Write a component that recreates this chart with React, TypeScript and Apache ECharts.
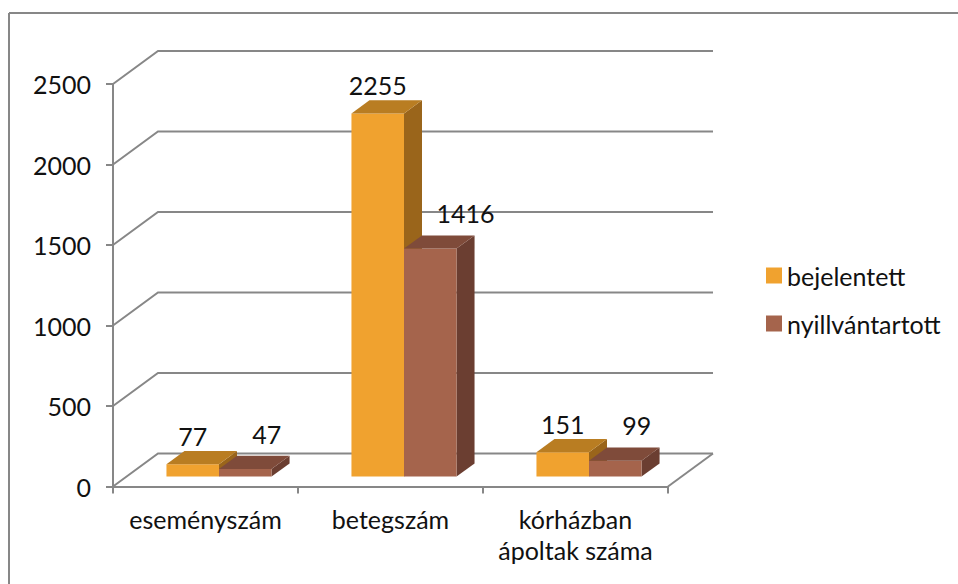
import React, { useEffect, useRef } from "react";
import * as echarts from "echarts";

const categories = ["eseményszám", "betegszám", "kórházban\nápoltak száma"];
const seriesNames = ["bejelentett", "nyillvántartott"];
const bejelentett = [77, 2255, 151];
const nyilvantartott = [47, 1416, 99];
const yTicks = [0, 500, 1000, 1500, 2000, 2500];

const FONT = "Lato, 'Open Sans', sans-serif";
const FS = 25;
const GRID_COLOR = "#878787";
const DX = 45;
const DY = -33;
const D1 = 0.3;
const D2 = 0.7;

const palettes = [
  { front: "#F0A22F", top: "#B97D22", side: "#9A651B" },
  { front: "#A5644C", top: "#7F4B3A", side: "#6B3E31" },
];
const allSeries = [bejelentett, nyilvantartott];

function barRenderer(sIdx: number, labelDx: number) {
  return (params: any, api: any) => {
    const i = api.value(0);
    const v = api.value(1);
    const base = api.coord([i, 0]);
    const top = api.coord([i, v]);
    const w = api.size([1, 0])[0];
    const bw = w * 0.284;
    const xl = sIdx === 0 ? base[0] - bw : base[0];
    const xr = xl + bw;
    const fx = D1 * DX, fy = D1 * DY, bx = D2 * DX, by = D2 * DY;
    const yb = base[1];
    const yt = top[1];
    const c = palettes[sIdx];
    const txt = String(v);
    const halfW = (txt.length * FS * 0.55) / 2;
    let lx = (xl + xr) / 2 + fx + labelDx;
    let ly = yt + by - 15;
    if (sIdx === 1) {
      const other = allSeries[0][i];
      if (other > v) {
        // keep label clear of the taller neighbouring bar's side face
        const sideRight = xl + bx;
        lx = Math.max(lx, sideRight + halfW + 16);
        ly = yt + by - 22;
      }
    }
    return {
      type: "group",
      children: [
        {
          type: "polygon",
          shape: { points: [[xr + fx, yb + fy], [xr + fx, yt + fy], [xr + bx, yt + by], [xr + bx, yb + by]] },
          style: { fill: c.side },
        },
        {
          type: "rect",
          shape: { x: xl + fx, y: yt + fy, width: bw, height: yb - yt },
          style: { fill: c.front },
        },
        {
          type: "polygon",
          shape: { points: [[xl + fx, yt + fy], [xr + fx, yt + fy], [xr + bx, yt + by], [xl + bx, yt + by]] },
          style: { fill: c.top },
        },
        {
          type: "text",
          x: lx,
          y: ly,
          style: {
            text: txt,
            fill: "#111",
            font: `${FS}px ${FONT}`,
            align: "center",
            verticalAlign: "middle",
          },
        },
      ],
    };
  };
}

export default function App() {
  const ref = useRef<HTMLDivElement>(null);
  useEffect(() => {
    document.body.style.margin = "0";
    const chart = echarts.init(ref.current!, null, { renderer: "svg" });
    const option: any = {
      animation: false,
      backgroundColor: "#fff",
      textStyle: { fontFamily: FONT },
      grid: { left: 113, top: 84, right: 290, bottom: 97.5, containLabel: false },
      legend: {
        orient: "vertical",
        left: 761,
        top: 258,
        itemWidth: 16,
        itemHeight: 16,
        itemGap: 23,
        icon: "rect",
        data: seriesNames,
        textStyle: { fontSize: FS, color: "#111", fontFamily: FONT },
      },
      graphic: [
        { type: "line", shape: { x1: 9, y1: 13, x2: 958, y2: 13 }, style: { stroke: GRID_COLOR, lineWidth: 2 } },
        { type: "line", shape: { x1: 9, y1: 13, x2: 9, y2: 584 }, style: { stroke: GRID_COLOR, lineWidth: 2 } },
      ],
      xAxis: {
        type: "category",
        data: categories,
        axisLine: { lineStyle: { color: GRID_COLOR, width: 2 } },
        axisTick: { show: true, length: 7, lineStyle: { color: GRID_COLOR, width: 2 } },
        axisLabel: {
          color: "#111",
          fontSize: FS,
          fontFamily: FONT,
          margin: 17,
          lineHeight: 31,
          interval: 0,
          hideOverlap: false,
        },
        splitLine: { show: false },
      },
      yAxis: {
        type: "value",
        min: 0,
        max: 2500,
        interval: 500,
        axisLine: { show: true, lineStyle: { color: GRID_COLOR, width: 2 } },
        axisTick: { show: true, length: 7, lineStyle: { color: GRID_COLOR, width: 2 } },
        axisLabel: {
          color: "#111",
          fontSize: FS,
          fontFamily: FONT,
          margin: 22,
          formatter: (v: number) => String(v),
        },
        splitLine: { show: false },
      },
      series: [
        {
          type: "custom",
          name: "wall",
          silent: true,
          clip: false,
          z: 1,
          data: yTicks.map((t) => [0, t]),
          renderItem: (params: any, api: any) => {
            const cs = params.coordSys;
            const y = api.coord([0, api.value(1)])[1];
            const x0 = cs.x;
            const x1 = cs.x + cs.width;
            const children: any[] = [
              {
                type: "polyline",
                shape: { points: [[x0, y], [x0 + DX, y + DY], [x1 + DX, y + DY]] },
                style: { stroke: GRID_COLOR, lineWidth: 2, fill: "none" },
              },
            ];
            if (api.value(1) === 0) {
              children.push({
                type: "line",
                shape: { x1: x1, y1: y, x2: x1 + DX, y2: y + DY },
                style: { stroke: GRID_COLOR, lineWidth: 2 },
              });
            }
            return { type: "group", children };
          },
        },
        {
          type: "custom",
          name: seriesNames[0],
          clip: false,
          z: 2,
          itemStyle: { color: palettes[0].front },
          data: bejelentett.map((v, i) => [i, v]),
          renderItem: barRenderer(0, 0),
        },
        {
          type: "custom",
          name: seriesNames[1],
          clip: false,
          z: 3,
          itemStyle: { color: palettes[1].front },
          data: nyilvantartott.map((v, i) => [i, v]),
          renderItem: barRenderer(1, 14),
        },
      ],
    };
    chart.setOption(option);
    return () => chart.dispose();
  }, []);
  return <div ref={ref} style={{ position: "absolute", left: 0, top: 0, width: 958, height: 584 }} />;
}
